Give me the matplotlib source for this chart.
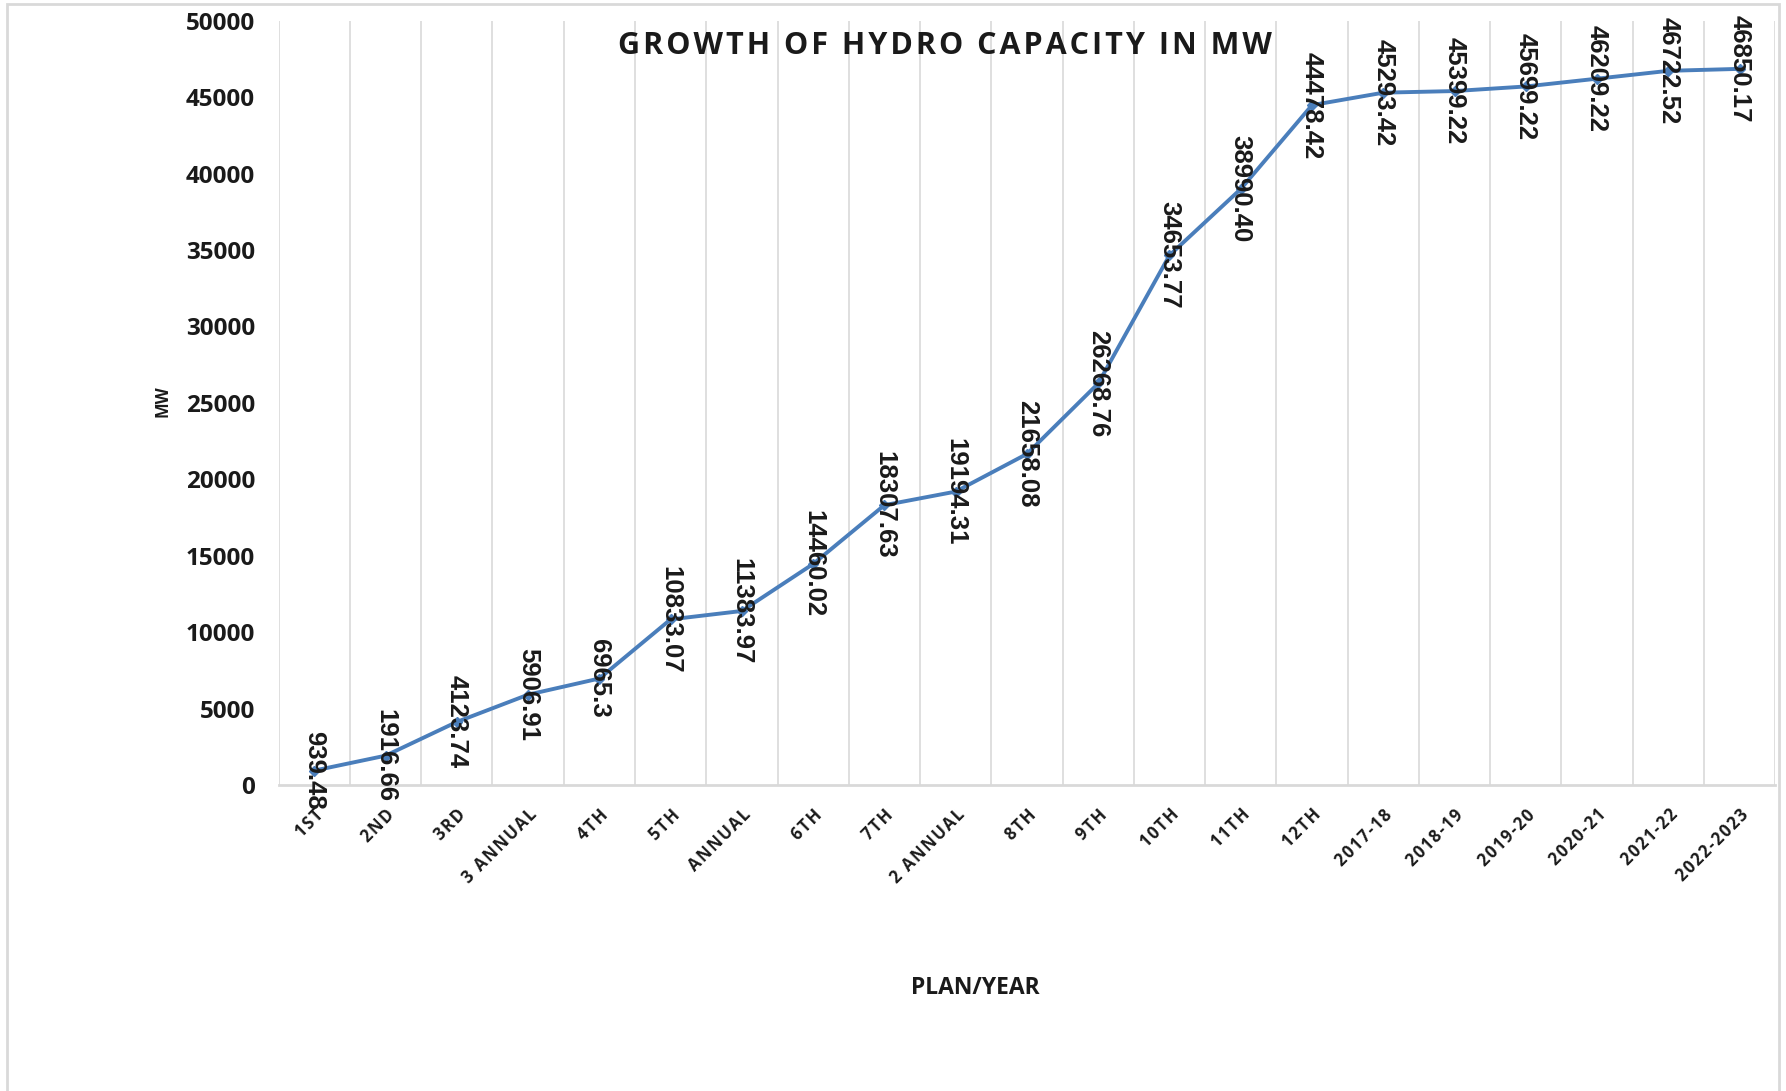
import matplotlib
matplotlib.use("Agg")
import matplotlib.pyplot as plt
from matplotlib.patches import Rectangle

plans = ["1ST", "2ND", "3RD", "3 ANNUAL", "4TH", "5TH", "ANNUAL", "6TH", "7TH",
         "2 ANNUAL", "8TH", "9TH", "10TH", "11TH", "12TH", "2017-18", "2018-19",
         "2019-20", "2020-21", "2021-22", "2022-2023"]
capacity = [939.48, 1916.66, 4123.74, 5906.91, 6965.3, 10833.07, 11383.97,
            14460.02, 18307.63, 19194.31, 21658.08, 26268.76, 34653.77, 38990.40,
            44478.42, 45293.42, 45399.22, 45699.22, 46209.22, 46722.52, 46850.17]
value_labels = ["939.48", "1916.66", "4123.74", "5906.91", "6965.3", "10833.07",
                "11383.97", "14460.02", "18307.63", "19194.31", "21658.08",
                "26268.76", "34653.77", "38990.40", "44478.42", "45293.42",
                "45399.22", "45699.22", "46209.22", "46722.52", "46850.17"]
y_ticks = [0, 5000, 10000, 15000, 20000, 25000, 30000, 35000, 40000, 45000, 50000]

line_color = "#4a7ebb"
grid_color = "#d9d9d9"
text_color = "#1a1a1a"
fam = ["Open Sans", "DejaVu Sans"]


def spaced(s, sep="\u200a"):
    # crude letter spacing, like the Excel title and category labels
    return sep.join(s)


fig = plt.figure(figsize=(17.86, 10.91), dpi=100)
ax = fig.add_axes([0.156, 0.2805, 0.838, 0.7005])

x = list(range(len(plans)))
ax.plot(x, capacity, color=line_color, lw=2.8, marker="D", ms=5, zorder=3)

for xi, yi, lab in zip(x, capacity, value_labels):
    ax.text(xi, yi, lab, rotation=270, ha="center", va="center",
            fontsize=18.5, fontweight="bold", family="Liberation Sans",
            color=text_color, zorder=4)

ax.set_xlim(-0.5, len(plans) - 0.5)
ax.set_ylim(0, 50000)

# category boundaries as vertical grid lines (Excel style)
for b in range(len(plans) + 1):
    ax.axvline(b - 0.5, color=grid_color, lw=1.2, zorder=1)

ax.set_xticks(x)
ax.set_xticklabels([])
ax.tick_params(axis="x", length=0)
for xi, lab in zip(x, plans):
    ax.annotate(spaced(lab), xy=(xi, 0), xycoords=("data", "axes fraction"),
                xytext=(0, -15), textcoords="offset points",
                rotation=45, rotation_mode="anchor", ha="right", va="top",
                fontsize=12, fontweight="bold", family=fam,
                color=text_color)

ax.set_yticks(y_ticks)
ax.set_yticklabels([str(t) for t in y_ticks], fontsize=17.5, fontweight="bold",
                   family="Open Sans", color=text_color)
ax.tick_params(axis="y", length=0, pad=17)

for s in ["top", "right", "left"]:
    ax.spines[s].set_visible(False)
ax.spines["bottom"].set_color(grid_color)
ax.spines["bottom"].set_linewidth(2)

fig.text(0.529, 0.958, spaced("GROWTH OF HYDRO CAPACITY IN MW"), ha="center", va="center",
         fontsize=22, fontweight="bold", family=fam, color=text_color)
fig.text(0.091, 0.632, "MW", rotation=90, ha="center", va="center",
         fontsize=12, fontweight="bold", family="Open Sans", color=text_color)
fig.text(0.546, 0.094, "PLAN/YEAR", ha="center", va="center",
         fontsize=16.5, fontweight="bold", family="Open Sans", color=text_color)

# light frame around the chart area
fig.patches.append(Rectangle((0.004, -0.01), 0.992, 1.006, transform=fig.transFigure,
                             fill=False, edgecolor=grid_color, lw=2))

fig.savefig("out.png", dpi=100, facecolor="white")
